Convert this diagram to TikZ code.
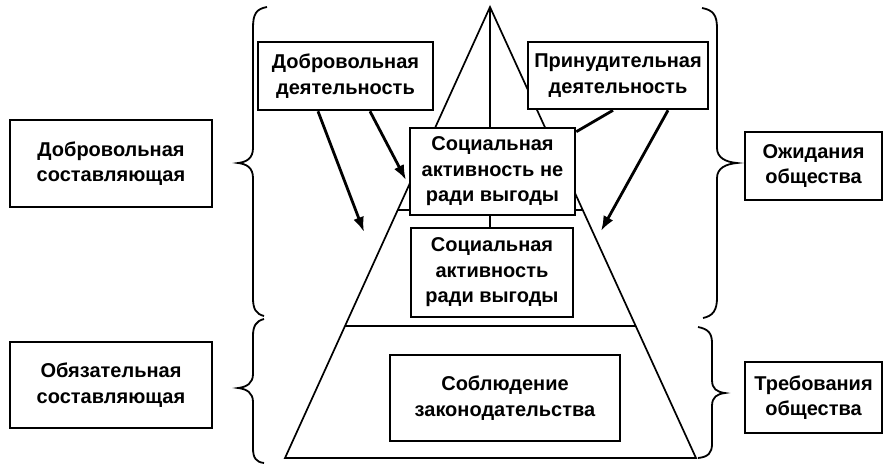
\documentclass[tikz,border=0pt]{standalone}
\usepackage{fontspec}
\setmainfont{Liberation Sans}
\usetikzlibrary{arrows.meta,backgrounds,calc}
\begin{document}
\begin{tikzpicture}[x=1pt,y=-1pt,
  box/.style={draw, line width=2.6pt, fill=white, align=center, inner sep=0pt,
              font=\bfseries\fontsize{20}{25.5}\selectfont},
  pyr/.style={line width=1.7pt},
  arr/.style={line width=2.8pt, -{Latex[length=15pt,width=11pt]}},
  plain/.style={line width=2.8pt},
  brc/.style={line width=1.8pt}]
\useasboundingbox (0,0) rectangle (894,469);

% boxes
\node[box, minimum width=175pt, minimum height=68pt] (dd) at (345.5,76) {Добровольная\\деятельность};
\node[box, minimum width=180pt, minimum height=67pt] (pd) at (618,75.5) {Принудительная\\деятельность};
\node[box, minimum width=165pt, minimum height=87pt] (top) at (492.5,171.5) {Социальная\\активность не\\ради выгоды};
\node[box, minimum width=162pt, minimum height=89pt] (mid) at (492,272.5) {Социальная\\активность\\ради выгоды};
\node[box, minimum width=230pt, minimum height=86pt] (bot) at (505,398) {Соблюдение\\законодательства};
\node[box, minimum width=202pt, minimum height=87pt] (lv) at (111,163.5) {Добровольная\\составляющая};
\node[box, minimum width=202pt, minimum height=86pt] (lo) at (111,385) {Обязательная\\составляющая};
\node[box, minimum width=137pt, minimum height=68pt] (ro) at (813.5,166) {Ожидания\\общества};
\node[box, minimum width=137pt, minimum height=71pt] (rt) at (813.5,397.5) {Требования\\общества};

% pyramid (behind boxes)
\coordinate (apex) at (490,7);
\coordinate (bl) at (285,458);
\coordinate (br) at (696,458);
\begin{scope}[on background layer]
  \draw[pyr] (bl) -- (apex) -- (br) -- cycle;
  \draw[pyr] (apex) -- (mid.north -| apex);
  \draw[pyr] ($(apex)!0.45!(bl)$) -- ($(apex)!0.45!(br)$);
\end{scope}
\draw[pyr] ($(apex)!0.7073!(bl)$) -- ($(apex)!0.7073!(br)$);

% arrows
\coordinate (t1) at (364,232);
\coordinate (t2) at (406,180);
\coordinate (t3) at (601,231);
\draw[arr] ([xshift=-27.5pt]dd.south) -- (t1);
\draw[arr] ([xshift=24.5pt]dd.south) -- (t2);
\draw[arr] ([xshift=50pt]pd.south) -- (t3);
\draw[plain] ([xshift=-5pt]pd.south) -- ([yshift=-5pt]top.north east);

% braces
\draw[brc] (267,7) .. controls (256,9) and (253,14) .. (253,28) -- (253,148)
  .. controls (253,158) and (247,162) .. (238,163)
  .. controls (247,164) and (253,168) .. (253,178) -- (253,298)
  .. controls (253,309) and (256,314) .. (264,316);
\draw[brc] (264,319) .. controls (256,321) and (253,326) .. (253,336) -- (253,374)
  .. controls (253,383) and (247,387) .. (238,388)
  .. controls (247,389) and (253,393) .. (253,402) -- (253,448)
  .. controls (253,458) and (256,462) .. (264,463);
\draw[brc] (702,8) .. controls (713,10) and (717,15) .. (717,28) -- (717,148)
  .. controls (717,158) and (726,162) .. (737,163)
  .. controls (726,164) and (717,168) .. (717,178) -- (717,298)
  .. controls (717,310) and (713,316) .. (703,318);
\draw[brc] (698,327) .. controls (708,329) and (712,333) .. (712,343) -- (712,380)
  .. controls (712,389) and (717,392) .. (725,393)
  .. controls (717,394) and (712,397) .. (712,406) -- (712,444)
  .. controls (712,453) and (708,457) .. (698,458);
\end{tikzpicture}
\end{document}
